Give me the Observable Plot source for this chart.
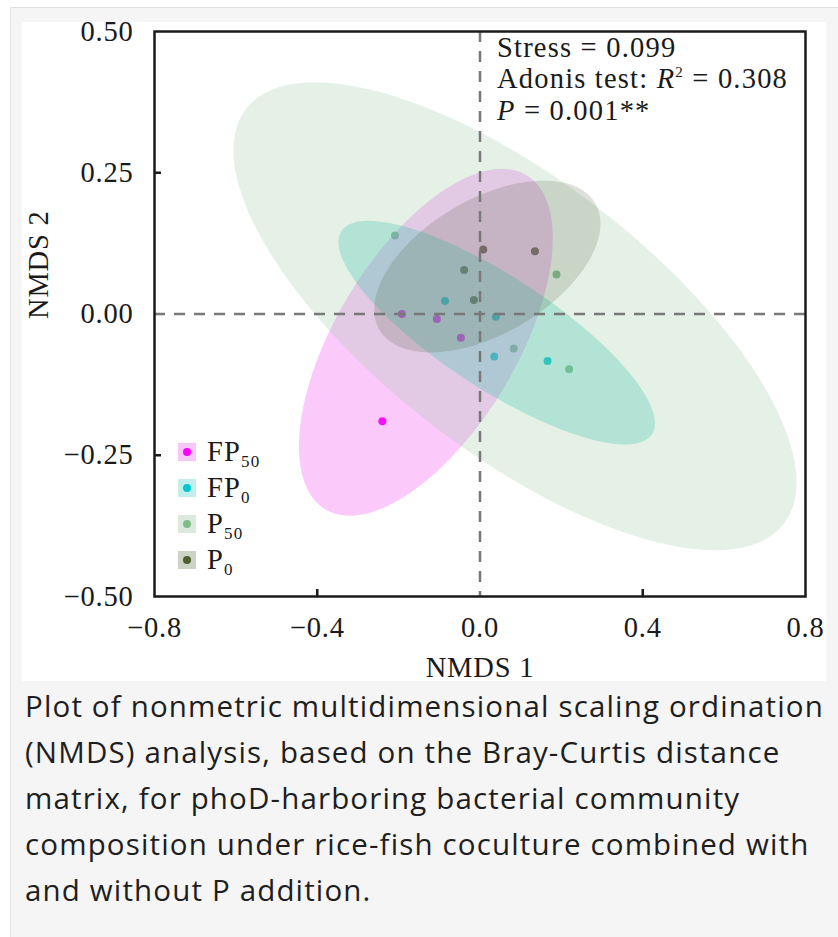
<!DOCTYPE html>
<html><head><meta charset="utf-8">
<script src="https://cdn.jsdelivr.net/npm/d3@7"></script>
<script src="https://cdn.jsdelivr.net/npm/@observablehq/plot@0.6"></script>
<style>
body{margin:0;background:#fff;width:838px;height:937px;overflow:hidden;position:relative}
#box{position:absolute;left:10px;top:7px;width:840px;height:940px;background:#f5f5f5;border:1px solid #e0e0e0;box-sizing:border-box}
#paper{position:absolute;left:22px;top:22px;width:804px;height:659px;background:#fff}
#chart{position:absolute;left:22px;top:0px;width:804px;height:690px}
#chart svg{display:block}
.serif{font-family:"Liberation Serif","Times New Roman",serif;font-size:28.5px;color:#1a1a1a;line-height:28px;position:absolute;white-space:nowrap;letter-spacing:1.2px}
.sw{position:absolute;width:18px;height:18px}
.sw i{position:absolute;left:5px;top:5px;width:8px;height:8px;border-radius:50%}
#caption{position:absolute;left:25px;top:683px;font-family:"Open Sans",sans-serif;font-size:29.5px;line-height:46px;color:#1e1e1e;white-space:nowrap;letter-spacing:1.15px}
</style>
</head><body>
<div id="box"></div>
<div id="paper"></div>
<div id="caption"></div>
<div id="chart"></div>
<div id="overlay"></div>
<script>
// ---- data ----
const groups = ["FP50", "FP0", "P50", "P0"];
const legendBase = ["FP", "FP", "P", "P"];
const legendSub = ["50", "0", "50", "0"];

const fp50X = [-0.192, -0.106, -0.047, -0.240];
const fp50Y = [0.000, -0.009, -0.042, -0.190];
const fp0X = [-0.086, 0.039, 0.035, 0.166];
const fp0Y = [0.023, -0.005, -0.075, -0.083];
const p50X = [-0.209, 0.188, 0.083, 0.219];
const p50Y = [0.139, 0.070, -0.061, -0.098];
const p0X = [0.008, 0.135, -0.039, -0.015];
const p0Y = [0.114, 0.111, 0.078, 0.025];

// confidence ellipses: centre, half-extent in x and y, correlation
const ellCx = [-0.133, 0.041, 0.086, 0.018];
const ellCy = [-0.050, -0.033, -0.004, 0.084];
const ellSx = [0.312, 0.389, 0.692, 0.278];
const ellSy = [0.307, 0.198, 0.414, 0.152];
const ellR = [0.60, -0.81, -0.71, 0.50];

const xTicks = [-0.8, -0.4, 0, 0.4, 0.8];
const yTicks = [-0.5, -0.25, 0, 0.25, 0.5];
const xInnerTicks = [-0.4, 0.4];
const yInnerTicks = [-0.25, 0.25];

const captionLines = [
  "Plot of nonmetric multidimensional scaling ordination",
  "(NMDS) analysis, based on the Bray-Curtis distance",
  "matrix, for phoD-harboring bacterial community",
  "composition under rice-fish coculture combined with",
  "and without P addition."
];

// ---- styles ----
const pointColors = ["#ff00ff", "#00c8d0", "#80bc8c", "#4e5e2c"];
const ellColors = ["#f03cf0", "#22c4b0", "#98c6a0", "#4a5a3a"];
const ellOpacity = [0.27, 0.30, 0.25, 0.18];
const swatchColors = ["#f7c8f7", "#c2eeee", "#dde9dd", "#cdd3c7"];

// ---- build tables ----
const xs = [fp50X, fp0X, p50X, p0X];
const ys = [fp50Y, fp0Y, p50Y, p0Y];
const points = [];
groups.forEach((g, i) => xs[i].forEach((x, j) => points.push({group: g, x, y: ys[i][j]})));

function ellipse(i) {
  const out = [];
  const d = Math.acos(ellR[i]);
  const N = 120;
  for (let k = 0; k < N; k++) {
    const t = 2 * Math.PI * k / N;
    out.push({x: ellCx[i] + ellSx[i] * Math.cos(t), y: ellCy[i] + ellSy[i] * Math.cos(t - d)});
  }
  return out;
}

const fmtX = d => d3.format(".1f")(d).replace("-", "\u2212");
const fmtY = d => d3.format(".2f")(d).replace("-", "\u2212");
const serif = '"Liberation Serif","Times New Roman",serif';

const plot = Plot.plot({
  width: 804,
  height: 690,
  marginLeft: 132,
  marginRight: 21,
  marginTop: 31,
  marginBottom: 94,
  style: {fontFamily: serif, fontSize: "28.5px", color: "#1a1a1a", background: "transparent", letterSpacing: "0.8px", overflow: "visible"},
  x: {domain: [-0.8, 0.8]},
  y: {domain: [-0.5, 0.5]},
  color: {domain: groups, range: pointColors},
  marks: [
    Plot.dot(points, {x: "x", y: "y", fill: "group", r: 4, stroke: "none"}),
    ...groups.map((g, i) => Plot.line(ellipse(i), {x: "x", y: "y", curve: "linear-closed", fill: ellColors[i], fillOpacity: ellOpacity[i], stroke: "none"})),
    Plot.ruleY([0], {stroke: "#787878", strokeWidth: 2.5, strokeDasharray: "11,9"}),
    Plot.ruleX([0], {stroke: "#787878", strokeWidth: 2.5, strokeDasharray: "11,9"}),
    Plot.frame({stroke: "#1a1a1a", strokeWidth: 2.5}),
    Plot.axisX(xTicks, {tickSize: 0, tickPadding: 20, tickFormat: fmtX, label: null}),
    Plot.axisY(yTicks, {tickSize: 0, tickPadding: 21, tickFormat: fmtY, label: null}),
    Plot.axisX(xInnerTicks, {tickSize: -7, strokeWidth: 2.5, tickFormat: () => "", label: null}),
    Plot.axisY(yInnerTicks, {tickSize: -7, strokeWidth: 2.5, tickFormat: () => "", label: null}),
    Plot.text(["NMDS 1"], {frameAnchor: "bottom", dy: 71, lineAnchor: "middle"}),
    Plot.text(["NMDS 2"], {frameAnchor: "left", rotate: -90, dx: -116, dy: 5, lineAnchor: "middle"})
  ]
});
document.getElementById("chart").appendChild(plot);

// ---- overlay: stats text and legend ----
const ov = document.getElementById("overlay");
const statTops = [33.5, 64.5, 96.5];
const statHtml = [
  "Stress = 0.099",
  'Adonis test: <i>R</i><span style="font-size:15px;position:relative;top:-11px">2</span> = 0.308',
  "<i>P</i> = 0.001**"
];
statHtml.forEach((h, i) => {
  const d = document.createElement("div");
  d.className = "serif";
  d.style.left = "497px";
  d.style.top = statTops[i] + "px";
  d.innerHTML = h;
  ov.appendChild(d);
});
groups.forEach((g, i) => {
  const cy = 452 + i * 36;
  const sw = document.createElement("div");
  sw.className = "sw";
  sw.style.left = "178px";
  sw.style.top = (cy - 9) + "px";
  sw.style.background = swatchColors[i];
  sw.innerHTML = `<i style="background:${pointColors[i]}"></i>`;
  ov.appendChild(sw);
  const t = document.createElement("div");
  t.className = "serif";
  t.style.left = "207px";
  t.style.top = (cy - 14.5) + "px";
  t.innerHTML = `${legendBase[i]}<span style="font-size:17px;position:relative;top:6px">${legendSub[i]}</span>`;
  ov.appendChild(t);
});

document.getElementById("caption").innerHTML = captionLines.join("<br>");
</script>
</body></html>
